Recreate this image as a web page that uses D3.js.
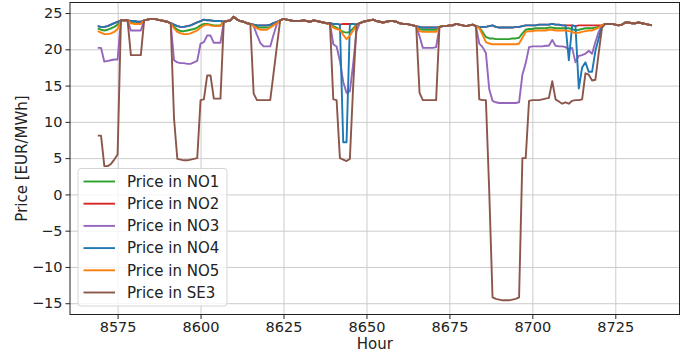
<!DOCTYPE html>
<html>
<head>
<meta charset="utf-8">
<script src="https://cdnjs.cloudflare.com/ajax/libs/d3/7.8.5/d3.min.js"></script>
<style>
  body { margin: 0; background: #fff; }
  text { font-family: "DejaVu Sans", sans-serif; }
</style>
</head>
<body>
<div class="canvas"></div>
<script>
// hourly prices, hour 8569 .. 8736
const firstHour = 8569;

const no1 = [
  22.9, 22.7, 22.6, 22.7, 22.9, 23.1, 23.4, 24.0, 24.0, 24.0,
  23.7, 23.6, 23.6, 23.6, 24.0, 24.1, 24.2, 24.2, 24.1, 24.0,
  23.9, 23.8, 23.6, 23.1, 22.7, 22.5, 22.5, 22.6, 22.7, 22.8,
  23.0, 23.3, 23.5, 23.5, 23.4, 23.3, 23.3, 23.3, 23.8, 23.9,
  24.0, 24.5, 24.1, 23.9, 23.8, 23.6, 23.5, 23.3, 23.1, 23.0,
  23.0, 23.0, 23.1, 23.4, 23.7, 24.0, 24.2, 24.1, 24.0, 23.9,
  23.9, 23.9, 24.0, 23.9, 23.8, 24.0, 23.9, 23.8, 23.7, 23.6,
  23.5, 23.2, 23.0, 22.7, 22.4, 22.3, 22.4, 22.9, 23.4, 23.6,
  23.8, 23.9, 24.0, 24.1, 23.9, 23.8, 23.7, 23.8, 23.9, 23.9,
  23.8, 23.6, 23.5, 23.5, 23.4, 23.3, 23.2, 22.8, 22.7, 22.7,
  22.7, 22.7, 22.7, 23.1, 23.2, 23.2, 23.3, 23.3, 23.5, 23.4,
  23.3, 23.2, 23.3, 23.4, 23.2, 23.0, 22.4, 21.7, 21.5, 21.5,
  21.4, 21.4, 21.4, 21.4, 21.4, 21.5, 21.5, 21.6, 22.2, 22.7,
  22.8, 22.8, 22.9, 22.9, 22.9, 22.9, 23.0, 23.0, 22.9, 22.9,
  22.9, 22.9, 22.9, 22.8, 22.6, 22.7, 22.8, 22.9, 22.9, 22.9,
  23.0, 23.1, 23.3, 23.5, 23.5, 23.5, 23.4, 23.3, 23.4, 23.7,
  23.7, 23.6, 23.6, 23.7, 23.6, 23.5, 23.4, 23.3
];

const no2 = [
  23.2, 23.1, 23.1, 23.2, 23.4, 23.6, 23.8, 24.0, 24.0, 24.0,
  23.9, 23.9, 23.8, 23.8, 24.0, 24.1, 24.2, 24.2, 24.1, 24.0,
  23.9, 23.8, 23.6, 23.4, 23.2, 23.1, 23.1, 23.2, 23.3, 23.5,
  23.7, 23.9, 24.1, 24.0, 24.0, 23.9, 23.9, 23.9, 23.8, 23.9,
  24.0, 24.5, 24.1, 23.9, 23.8, 23.6, 23.5, 23.4, 23.3, 23.3,
  23.3, 23.3, 23.4, 23.6, 23.8, 24.0, 24.2, 24.1, 24.0, 23.9,
  23.9, 23.9, 24.0, 23.9, 23.8, 24.0, 23.9, 23.8, 23.7, 23.6,
  23.6, 23.5, 23.5, 23.4, 23.5, 23.5, 23.5, 23.5, 23.4, 23.6,
  23.8, 23.9, 24.0, 24.1, 23.9, 23.8, 23.7, 23.8, 23.9, 23.9,
  23.8, 23.6, 23.5, 23.5, 23.4, 23.3, 23.2, 23.1, 23.0, 23.0,
  23.0, 23.0, 23.0, 23.1, 23.2, 23.2, 23.3, 23.3, 23.5, 23.4,
  23.3, 23.2, 23.3, 23.4, 23.2, 23.1, 23.1, 23.1, 23.2, 23.3,
  23.1, 23.0, 23.0, 23.0, 23.0, 23.0, 23.1, 23.1, 23.2, 23.3,
  23.3, 23.3, 23.3, 23.4, 23.4, 23.4, 23.4, 23.5, 23.4, 23.4,
  23.3, 23.3, 23.3, 23.3, 23.2, 23.3, 23.3, 23.3, 23.3, 23.3,
  23.3, 23.3, 23.3, 23.5, 23.5, 23.5, 23.4, 23.3, 23.4, 23.7,
  23.7, 23.6, 23.6, 23.7, 23.6, 23.5, 23.4, 23.3
];

const no3 = [
  20.2, 20.2, 18.3, 18.4, 18.5, 18.6, 18.6, 24.0, 24.0, 24.0,
  22.6, 22.6, 22.6, 22.6, 24.0, 24.1, 24.2, 24.2, 24.1, 24.0,
  23.9, 23.8, 23.6, 18.5, 18.2, 18.1, 18.1, 18.0, 18.0, 18.2,
  18.4, 20.8, 21.0, 21.9, 21.9, 20.9, 20.9, 20.9, 23.8, 23.9,
  24.0, 24.5, 24.1, 23.9, 23.8, 23.6, 23.5, 23.2, 22.0, 20.9,
  20.4, 20.4, 20.4, 22.0, 23.5, 24.0, 24.2, 24.1, 24.0, 23.9,
  23.9, 23.9, 24.0, 23.9, 23.8, 24.0, 23.9, 23.8, 23.7, 23.6,
  23.6, 20.7, 20.4, 18.4, 15.5, 14.0, 14.2, 18.0, 22.5, 23.6,
  23.8, 23.9, 24.0, 24.1, 23.9, 23.8, 23.7, 23.8, 23.9, 23.9,
  23.8, 23.6, 23.5, 23.5, 23.4, 23.3, 23.2, 21.8, 20.2, 20.2,
  20.2, 20.2, 20.3, 23.1, 23.2, 23.2, 23.3, 23.3, 23.5, 23.4,
  23.3, 23.2, 23.3, 23.4, 23.2, 20.8, 20.3, 19.5, 14.5, 12.9,
  12.7, 12.6, 12.6, 12.6, 12.6, 12.6, 12.6, 12.7, 16.5, 18.1,
  20.3, 20.4, 20.4, 20.4, 20.4, 20.5, 20.5, 21.3, 20.5, 20.4,
  20.4, 20.3, 20.0, 20.2, 18.2, 19.1, 19.2, 19.4, 19.8, 19.4,
  21.0, 22.4, 23.3, 23.5, 23.5, 23.5, 23.4, 23.3, 23.4, 23.7,
  23.7, 23.6, 23.6, 23.7, 23.6, 23.5, 23.4, 23.3
];

const no4 = [
  23.2, 23.1, 23.1, 23.2, 23.4, 23.6, 23.8, 24.0, 24.0, 24.0,
  23.9, 23.9, 23.8, 23.8, 24.0, 24.1, 24.2, 24.2, 24.1, 24.0,
  23.9, 23.8, 23.6, 23.4, 23.2, 23.1, 23.1, 23.2, 23.3, 23.5,
  23.7, 23.9, 24.1, 24.0, 24.0, 23.9, 23.9, 23.9, 23.8, 23.9,
  24.0, 24.5, 24.1, 23.9, 23.8, 23.6, 23.5, 23.4, 23.3, 23.3,
  23.3, 23.3, 23.4, 23.6, 23.8, 24.0, 24.2, 24.1, 24.0, 23.9,
  23.9, 23.9, 24.0, 23.9, 23.8, 24.0, 23.9, 23.8, 23.7, 23.6,
  23.6, 23.5, 23.5, 23.4, 7.2, 7.2, 23.4, 23.5, 23.4, 23.6,
  23.8, 23.9, 24.0, 24.1, 23.9, 23.8, 23.7, 23.8, 23.9, 23.9,
  23.8, 23.6, 23.5, 23.5, 23.4, 23.3, 23.2, 23.1, 23.0, 23.0,
  23.0, 23.0, 23.0, 23.1, 23.2, 23.2, 23.3, 23.3, 23.5, 23.4,
  23.3, 23.2, 23.3, 23.4, 23.2, 23.1, 23.1, 23.1, 23.2, 23.3,
  23.1, 23.0, 23.0, 23.0, 23.0, 23.0, 23.1, 23.1, 23.2, 23.3,
  23.3, 23.3, 23.3, 23.4, 23.4, 23.4, 23.4, 23.5, 23.4, 23.4,
  23.3, 23.3, 18.5, 23.3, 23.2, 14.6, 17.5, 18.2, 16.9, 16.9,
  19.8, 21.5, 23.3, 23.5, 23.5, 23.5, 23.4, 23.3, 23.4, 23.7,
  23.7, 23.6, 23.6, 23.7, 23.6, 23.5, 23.4, 23.3
];

const no5 = [
  22.5, 22.3, 22.1, 22.1, 22.2, 22.4, 22.8, 24.0, 24.0, 24.0,
  23.6, 23.5, 23.5, 23.5, 24.0, 24.1, 24.2, 24.2, 24.1, 24.0,
  23.9, 23.8, 23.6, 22.9, 22.4, 22.2, 22.1, 22.1, 22.2, 22.4,
  22.6, 23.0, 23.3, 23.4, 23.3, 23.2, 23.2, 23.2, 23.8, 23.9,
  24.0, 24.5, 24.1, 23.9, 23.8, 23.6, 23.5, 23.2, 22.9, 22.7,
  22.7, 22.7, 23.0, 23.3, 23.6, 24.0, 24.2, 24.1, 24.0, 23.9,
  23.9, 23.9, 24.0, 23.9, 23.8, 24.0, 23.9, 23.8, 23.7, 23.6,
  23.4, 23.0, 22.8, 22.7, 22.0, 21.4, 21.9, 22.6, 23.3, 23.6,
  23.8, 23.9, 24.0, 24.1, 23.9, 23.8, 23.7, 23.8, 23.9, 23.9,
  23.8, 23.6, 23.5, 23.5, 23.4, 23.3, 23.2, 22.5, 22.4, 22.4,
  22.4, 22.4, 22.4, 23.1, 23.2, 23.2, 23.3, 23.3, 23.5, 23.4,
  23.3, 23.2, 23.3, 23.4, 23.2, 22.9, 22.0, 21.0, 20.8, 20.7,
  20.7, 20.7, 20.7, 20.7, 20.7, 20.7, 20.7, 20.8, 21.6, 22.4,
  22.5, 22.5, 22.6, 22.6, 22.6, 22.6, 22.7, 22.7, 22.6, 22.6,
  22.6, 22.6, 22.5, 22.4, 22.2, 22.3, 22.4, 22.5, 22.6, 22.6,
  22.8, 23.0, 23.3, 23.5, 23.5, 23.5, 23.4, 23.3, 23.4, 23.7,
  23.7, 23.6, 23.6, 23.7, 23.6, 23.5, 23.4, 23.3
];

const se3 = [
  8.1, 8.1, 3.9, 3.9, 4.2, 4.8, 5.5, 24.0, 24.0, 24.0,
  19.2, 19.2, 19.2, 19.2, 24.0, 24.1, 24.2, 24.2, 24.1, 24.0,
  23.9, 23.8, 23.6, 10.5, 4.9, 4.8, 4.7, 4.7, 4.8, 4.9,
  5.0, 13.0, 13.1, 16.4, 16.4, 13.2, 13.2, 13.2, 23.8, 23.9,
  24.0, 24.5, 24.1, 23.9, 23.8, 23.6, 23.5, 13.9, 13.0, 13.0,
  13.0, 13.0, 13.0, 16.7, 20.4, 24.0, 24.2, 24.1, 24.0, 23.9,
  23.9, 23.9, 24.0, 23.9, 23.8, 24.0, 23.9, 23.8, 23.7, 23.6,
  23.6, 13.1, 13.0, 5.0, 4.8, 4.6, 4.9, 15.0, 23.4, 23.6,
  23.8, 23.9, 24.0, 24.1, 23.9, 23.8, 23.7, 23.8, 23.9, 23.9,
  23.8, 23.6, 23.5, 23.5, 23.4, 23.3, 23.2, 14.0, 13.0, 13.0,
  13.0, 13.0, 13.0, 23.1, 23.2, 23.2, 23.3, 23.3, 23.5, 23.4,
  23.3, 23.2, 23.3, 23.4, 23.2, 13.1, 13.0, 13.0, 0.5, -14.2,
  -14.4, -14.5, -14.6, -14.6, -14.6, -14.5, -14.4, -14.2, 5.0, 5.0,
  12.9, 13.0, 13.0, 13.0, 13.1, 13.2, 13.3, 15.6, 13.1, 12.8,
  12.5, 12.7, 12.5, 12.9, 13.0, 13.0, 13.1, 16.7, 16.5, 15.7,
  15.8, 19.5, 23.0, 23.5, 23.5, 23.5, 23.4, 23.3, 23.4, 23.7,
  23.7, 23.6, 23.6, 23.7, 23.6, 23.5, 23.4, 23.3
];

const seriesNames = ['Price in NO1', 'Price in NO2', 'Price in NO3', 'Price in NO4', 'Price in NO5', 'Price in SE3'];
const seriesValues = [no1, no2, no3, no4, no5, se3];
const seriesColors = ['#2ca02c', '#d62728', '#9467bd', '#1f77b4', '#ff7f0e', '#8c564b'];

const xTicks = [8575, 8600, 8625, 8650, 8675, 8700, 8725];
const yTicks = [-15, -10, -5, 0, 5, 10, 15, 20, 25];

const hours = d3.range(firstHour, firstHour + no1.length);

// svg + margins
const svg = d3.select('.canvas')
  .append('svg')
    .attr('width', 685)
    .attr('height', 351);

const margin = {top: 2.5, right: 5.5, bottom: 36.5, left: 70};
const graphWidth = 685 - margin.left - margin.right;
const graphHeight = 351 - margin.top - margin.bottom;

const graph = svg.append('g')
  .attr('transform', `translate(${margin.left}, ${margin.top})`);

// matplotlib style 5% padding on data limits
const xPad = (d3.max(hours) - d3.min(hours)) * 0.05;
const x = d3.scaleLinear()
  .domain([d3.min(hours) - xPad, d3.max(hours) + xPad])
  .range([0, graphWidth]);

const allVals = seriesValues.flat();
const yPad = (d3.max(allVals) - d3.min(allVals)) * 0.05;
const y = d3.scaleLinear()
  .domain([d3.min(allVals) - yPad, d3.max(allVals) + yPad])
  .range([graphHeight, 0]);

// grid
graph.append('g')
  .attr('class', 'grid')
  .attr('transform', `translate(0, ${graphHeight})`)
  .call(d3.axisBottom(x).tickValues(xTicks).tickSize(-graphHeight).tickFormat(''))
  .call(g => g.select('.domain').remove());

graph.append('g')
  .attr('class', 'grid')
  .call(d3.axisLeft(y).tickValues(yTicks).tickSize(-graphWidth).tickFormat(''))
  .call(g => g.select('.domain').remove());

graph.selectAll('.grid line')
  .attr('stroke', '#cbcbcb')
  .attr('stroke-width', 1);

// lines
const line = d3.line()
  .x((d, i) => x(hours[i]))
  .y(d => y(d));

graph.selectAll('path.series')
  .data(seriesValues)
  .enter()
  .append('path')
    .attr('class', 'series')
    .attr('d', line)
    .attr('fill', 'none')
    .attr('stroke', (d, i) => seriesColors[i])
    .attr('stroke-width', 1.9)
    .attr('stroke-linejoin', 'round');

// axes
const xAxisGroup = graph.append('g')
  .attr('transform', `translate(0, ${graphHeight})`)
  .call(d3.axisBottom(x).tickValues(xTicks).tickSizeOuter(0).tickSize(4.5).tickPadding(2.5).tickFormat(d3.format('d')));

const yAxisGroup = graph.append('g')
  .call(d3.axisLeft(y).tickValues(yTicks).tickSizeOuter(0).tickSize(4.5).tickPadding(3));

[xAxisGroup, yAxisGroup].forEach(g => {
  g.select('.domain').remove();
  g.selectAll('line').attr('stroke', '#222');
  g.selectAll('text')
    .attr('fill', '#222')
    .style('font-size', '14.5px');
});

// frame
graph.append('rect')
  .attr('width', graphWidth)
  .attr('height', graphHeight)
  .attr('fill', 'none')
  .attr('stroke', '#222')
  .attr('stroke-width', 1);

// axis labels
svg.append('text')
  .attr('x', margin.left + graphWidth / 2)
  .attr('y', 348.5)
  .attr('text-anchor', 'middle')
  .attr('fill', '#222')
  .style('font-size', '15px')
  .text('Hour');

svg.append('text')
  .attr('transform', `translate(26.5, ${margin.top + graphHeight / 2}) rotate(-90)`)
  .attr('text-anchor', 'middle')
  .attr('fill', '#222')
  .style('font-size', '15px')
  .text('Price [EUR/MWh]');

// legend
const legend = svg.append('g')
  .attr('transform', 'translate(78, 168.5)');

legend.append('rect')
  .attr('width', 149)
  .attr('height', 137.5)
  .attr('rx', 3)
  .attr('fill', '#fff')
  .attr('fill-opacity', 0.8)
  .attr('stroke', '#d5d5d5');

const items = legend.selectAll('g.item')
  .data(seriesNames)
  .enter()
  .append('g')
    .attr('class', 'item')
    .attr('transform', (d, i) => `translate(0, ${13 + i * 22.2})`);

items.append('line')
  .attr('x1', 5.5)
  .attr('x2', 37)
  .attr('stroke', (d, i) => seriesColors[i])
  .attr('stroke-width', 1.9);

items.append('text')
  .attr('x', 49)
  .attr('y', 5.3)
  .attr('fill', '#222')
  .style('font-size', '15px')
  .text(d => d);
</script>
</body>
</html>
